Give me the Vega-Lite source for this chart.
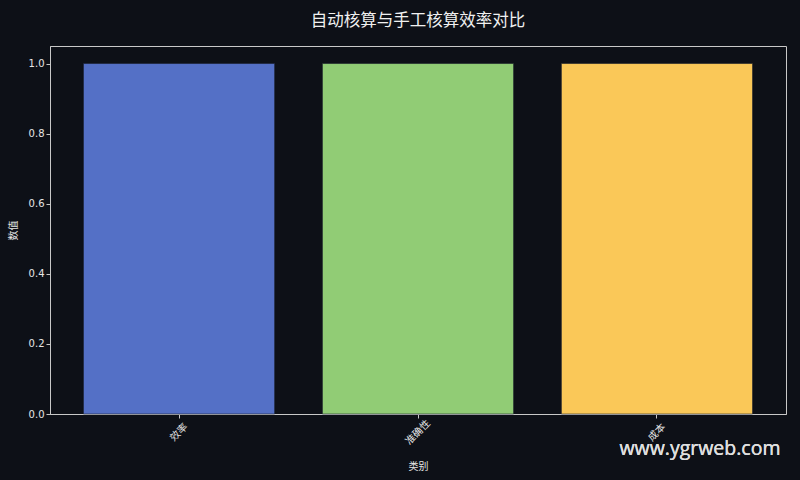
{
  "$schema": "https://vega.github.io/schema/vega-lite/v6.json",
  "width": 736,
  "height": 368,
  "padding": {"left": 50, "top": 46, "right": 14, "bottom": 66},
  "autosize": {"type": "none"},
  "background": "#0d1017",
  "title": {
    "text": "自动核算与手工核算效率对比",
    "font": "Noto Sans CJK SC",
    "fontSize": 16.5,
    "fontWeight": "normal",
    "color": "#f0f0f0",
    "anchor": "middle",
    "offset": 17
  },
  "config": {
    "view": {"stroke": "#c8c8c8", "strokeWidth": 1},
    "axis": {
      "domainColor": "#c8c8c8",
      "tickColor": "#c8c8c8",
      "labelColor": "#e6e6e6",
      "titleColor": "#e6e6e6",
      "labelFont": "DejaVu Sans",
      "titleFont": "Noto Sans CJK SC",
      "labelFontSize": 10,
      "titleFontSize": 10,
      "titleFontWeight": "normal",
      "grid": false,
      "tickSize": 4
    }
  },
  "data": {
    "values": [
      {"类别": "效率", "数值": 1.0},
      {"类别": "准确性", "数值": 1.0},
      {"类别": "成本", "数值": 1.0}
    ]
  },
  "layer": [
    {
      "mark": {"type": "bar", "stroke": "#1a1f2b", "strokeWidth": 0.6},
      "encoding": {
        "x": {
          "field": "类别",
          "type": "nominal",
          "sort": null,
          "title": "类别",
          "scale": {"paddingInner": 0.2, "paddingOuter": 0.14},
          "axis": {"labelAngle": -45, "labelFont": "Noto Sans CJK SC", "labelAlign": "center", "labelBaseline": "middle", "labelPadding": 14, "titleY": 47}
        },
        "y": {
          "field": "数值",
          "type": "quantitative",
          "title": "数值",
          "scale": {"domain": [0, 1.05], "nice": false},
          "axis": {"values": [0, 0.2, 0.4, 0.6, 0.8, 1.0], "format": ".1f", "titlePadding": 10}
        },
        "color": {
          "field": "类别",
          "type": "nominal",
          "sort": null,
          "scale": {"domain": ["效率", "准确性", "成本"], "range": ["#5470c6", "#91cc75", "#fac858"]},
          "legend": null
        }
      }
    },
    {
      "mark": {"type": "text", "text": "www.ygrweb.com", "font": "Open Sans", "fontSize": 19.5, "color": "#e0e0e0", "opacity": 0.85, "dx": 43, "dy": 35, "align": "center", "baseline": "middle"},
      "encoding": {
        "x": {"datum": "成本", "type": "nominal"},
        "y": {"datum": 0, "type": "quantitative"}
      }
    }
  ]
}
